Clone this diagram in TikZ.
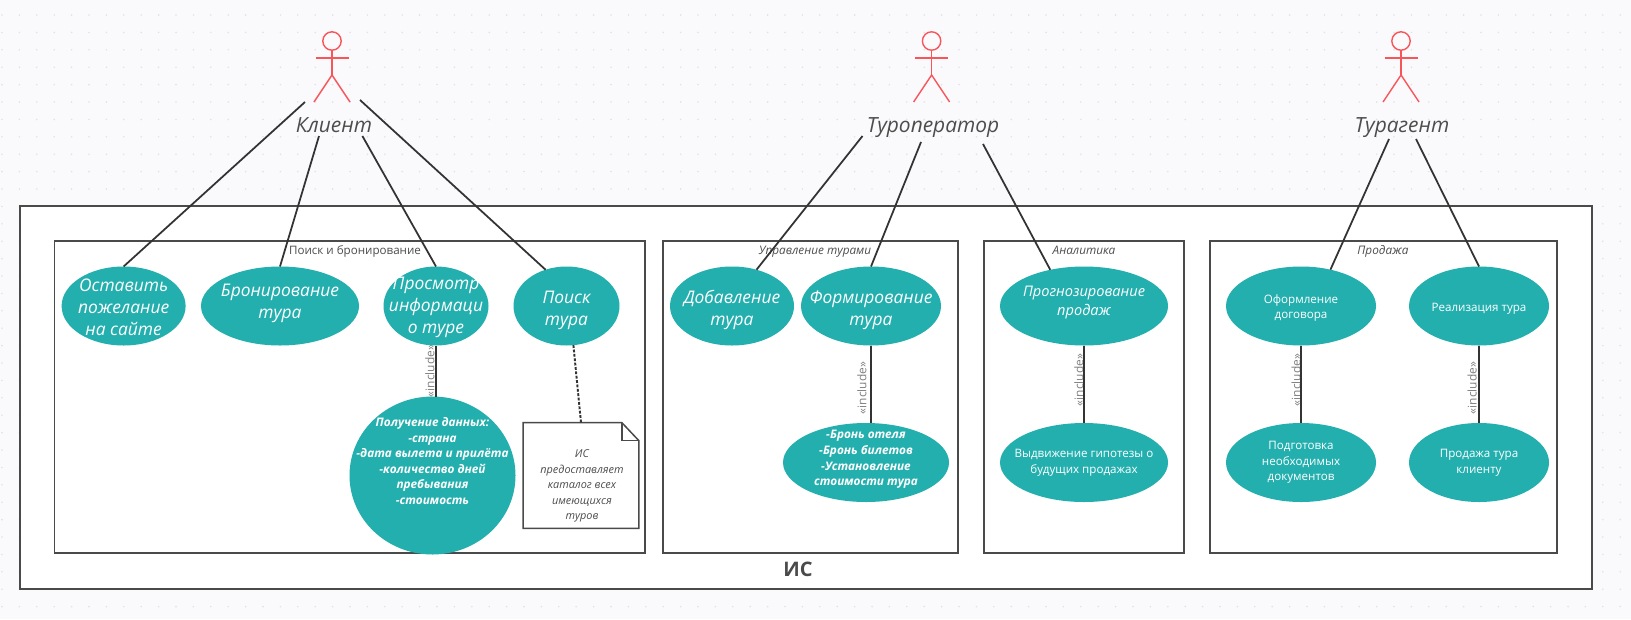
\documentclass[tikz,border=0pt]{standalone}
\usepackage{fontspec}
\setmainfont{Open Sans}
\usetikzlibrary{shapes.geometric}
\definecolor{caseteal}{HTML}{24AFAF}
\definecolor{actorred}{HTML}{F8555A}
\definecolor{boardbg}{HTML}{FAFAFD}
\definecolor{boarddot}{HTML}{E2E2E8}
\definecolor{boxline}{HTML}{4A4A4A}
\definecolor{inktext}{HTML}{4D4D4D}
\tikzset{
  usecase/.style={ellipse, fill=caseteal, inner sep=0pt, outer sep=0pt, minimum width=#1*0.02cm, minimum height=79*0.02cm},
  bigtext/.style={text=white, align=center, font=\fontsize{9.9}{12.5}\selectfont\itshape},
  midtext/.style={text=white, align=center, font=\fontsize{8.3}{10.8}\selectfont\itshape},
  plaintext/.style={text=white, align=center, font=\fontsize{6.6}{8.9}\selectfont},
  boldtext/.style={text=white, align=center, font=\fontsize{6.7}{8.9}\selectfont\bfseries\itshape},
  actorname/.style={text=inktext, anchor=base, font=\fontsize{11.9}{15}\selectfont\itshape},
  groupbox/.style={draw=boxline, line width=1.1pt, fill=white},
  grouptext/.style={text=inktext, anchor=base, font=\fontsize{6.6}{8}\selectfont},
  assoc/.style={draw=black!80, line width=1pt},
  inctext/.style={text=black!50, rotate=90, font=\fontsize{6.8}{8}\selectfont},
}
\begin{document}
\begin{tikzpicture}[x=0.02cm, y=-0.02cm]
\fill[boardbg] (0,0) rectangle (1631,619);
\useasboundingbox (0,0) rectangle (1631,619);
\foreach \x in {0,...,93}
{
    \foreach \y in {0,...,34}
    {
        \fill[boarddot] (2+17.4*\x,15+17.4*\y) circle (.9);
    }
}
% boxes
\draw[groupbox] (20,206) rectangle (1592,589);
\draw[groupbox] (54.5,241) rectangle (645,553);
\draw[groupbox] (663,241) rectangle (958,553);
\draw[groupbox] (984,241) rectangle (1184,553);
\draw[groupbox] (1210,241) rectangle (1557,553);
\node (sysname) at (798,569)[text=boxline, font=\fontsize{11.4}{14}\selectfont\bfseries]{ИС};
\node (grsearch) at (355,254)[grouptext]{Поиск и бронирование};
\node (grtours) at (815,254)[grouptext, font=\fontsize{6.7}{8}\selectfont\itshape]{Управление турами};
\node (granalysis) at (1084,254)[grouptext, font=\fontsize{6.7}{8}\selectfont\itshape]{Аналитика};
\node (grsale) at (1383,254)[grouptext, font=\fontsize{6.7}{8}\selectfont\itshape]{Продажа};
% actors
\foreach \x in {332,931.6,1401}
{
    \draw[actorred, line width=.8pt] (\x,41) circle (9.2);
    \draw[actorred, line width=.8pt] (\x,50) -- (\x,75) (\x-16.5,58) -- (\x+16.5,58);
    \draw[actorred, line width=.8pt] (\x-18,102) -- (\x,75) -- (\x+18,102);
}
\node (client) at (334,132)[actorname]{Клиент};
\node (operator) at (933,132)[actorname]{Туроператор};
\node (agent) at (1402,132)[actorname]{Турагент};
\foreach \x/\y in {430/371,862/388,1079/380,1296/380,1472/388}
{
    \node (inc\x) at (\x,\y)[inctext]{«include»};
}
% use cases
\node (leave) at (123.6,306)[usecase=124, label={[bigtext, yshift=-1*0.02cm]center:Оставить\\пожелание\\на сайте}]{};
\node (book) at (280,306)[usecase=158, label={[bigtext, yshift=3*0.02cm]center:Бронирование\\тура}]{};
\node (view) at (436,306)[usecase=105, label={[bigtext, yshift=-1*0.02cm]center:Просмотр\\информаци\\о туре}]{};
\node (find) at (566.5,306)[usecase=106, label={[bigtext, yshift=-4*0.02cm]center:Поиск\\тура}]{};
\node (getdata) at (432.5,475.5)[usecase=166, minimum height=158*0.02cm, label={[boldtext, yshift=14.5*0.02cm]center:Получение данных:\\-страна\\-дата вылета и прилёта\\-количество дней\\пребывания\\-стоимость}]{};
\node (addtour) at (732,306)[usecase=124, label={[bigtext, yshift=-4*0.02cm]center:Добавление\\тура}]{};
\node (maketour) at (871,306)[usecase=140, label={[bigtext, yshift=-4*0.02cm]center:Формирование\\тура}]{};
\node (hotel) at (866,462.5)[usecase=166, label={[boldtext, yshift=3*0.02cm]center:-Бронь отеля\\-Бронь билетов\\-Установление\\стоимости тура}]{};
\node (forecast) at (1084,306)[usecase=168, label={[midtext, yshift=3.5*0.02cm]center:Прогнозирование\\продаж}]{};
\node (guess) at (1084,462.5)[usecase=168, label={[plaintext]center:Выдвижение гипотезы о\\будущих продажах}]{};
\node (contract) at (1301,306)[usecase=150, label={[plaintext, yshift=-2*0.02cm]center:Оформление\\договора}]{};
\node (papers) at (1301,462.5)[usecase=150, label={[plaintext]center:Подготовка\\необходимых\\документов}]{};
\node (sell) at (1479,306)[usecase=140, label={[plaintext, yshift=-3*0.02cm]center:Реализация тура}]{};
\node (sellclient) at (1479,462.5)[usecase=140, label={[plaintext]center:Продажа тура\\клиенту}]{};
% note
\node (catalog) at (581,475.5)[minimum width=115*0.02cm, minimum height=105*0.02cm, inner sep=0pt]{};
\draw[draw=boxline, line width=.85pt, fill=white] (catalog.south west) -- (catalog.north west) -- ([xshift=-17*0.02cm]catalog.north east) -- ([yshift=-18*0.02cm]catalog.north east) -- (catalog.south east) -- cycle;
\draw[draw=boxline, line width=.85pt] ([xshift=-17*0.02cm]catalog.north east) -- ([xshift=-17*0.02cm, yshift=-18*0.02cm]catalog.north east) -- ([yshift=-18*0.02cm]catalog.north east);
\node (catalogtext) at (582,486)[text=black!70, align=center, font=\fontsize{6.2}{8.9}\selectfont\itshape]{ИС\\предоставляет\\каталог всех\\имеющихся\\туров};
% connectors
\coordinate (clientA) at (305,102);
\coordinate (clientB) at (319,136);
\coordinate (clientC) at (362.4,136);
\coordinate (clientD) at (360,100);
\coordinate (operA) at (862.5,136);
\coordinate (operB) at (921,142);
\coordinate (operC) at (983,144);
\coordinate (agentA) at (1389,139);
\coordinate (agentB) at (1416,139);
\draw[assoc] (clientA) -- (leave.north);
\draw[assoc] (clientB) -- (book.north);
\draw[assoc] (clientC) -- (view.north);
\draw[assoc] (clientD) -- (find.120);
\draw[assoc] (operA) -- (addtour.56);
\draw[assoc] (operB) -- (maketour.north);
\draw[assoc] (operC) -- (forecast.133);
\draw[assoc] (agentA) -- (contract.51);
\draw[assoc] (agentB) -- (sell.north);
\draw[assoc, line width=1.1pt] (view.south) -- (view.south |- getdata.north);
\draw[assoc, line width=1.1pt] (maketour.south) -- (maketour.south |- hotel.north);
\draw[assoc, line width=1.1pt] (forecast) -- (guess);
\draw[assoc, line width=1.1pt] (contract) -- (papers);
\draw[assoc, line width=1.1pt] (sell) -- (sellclient);
\draw[assoc, line width=1.1pt, dash pattern=on 1.6pt off .9pt] (find.-80) -- (catalog.north);
\end{tikzpicture}
\end{document}
